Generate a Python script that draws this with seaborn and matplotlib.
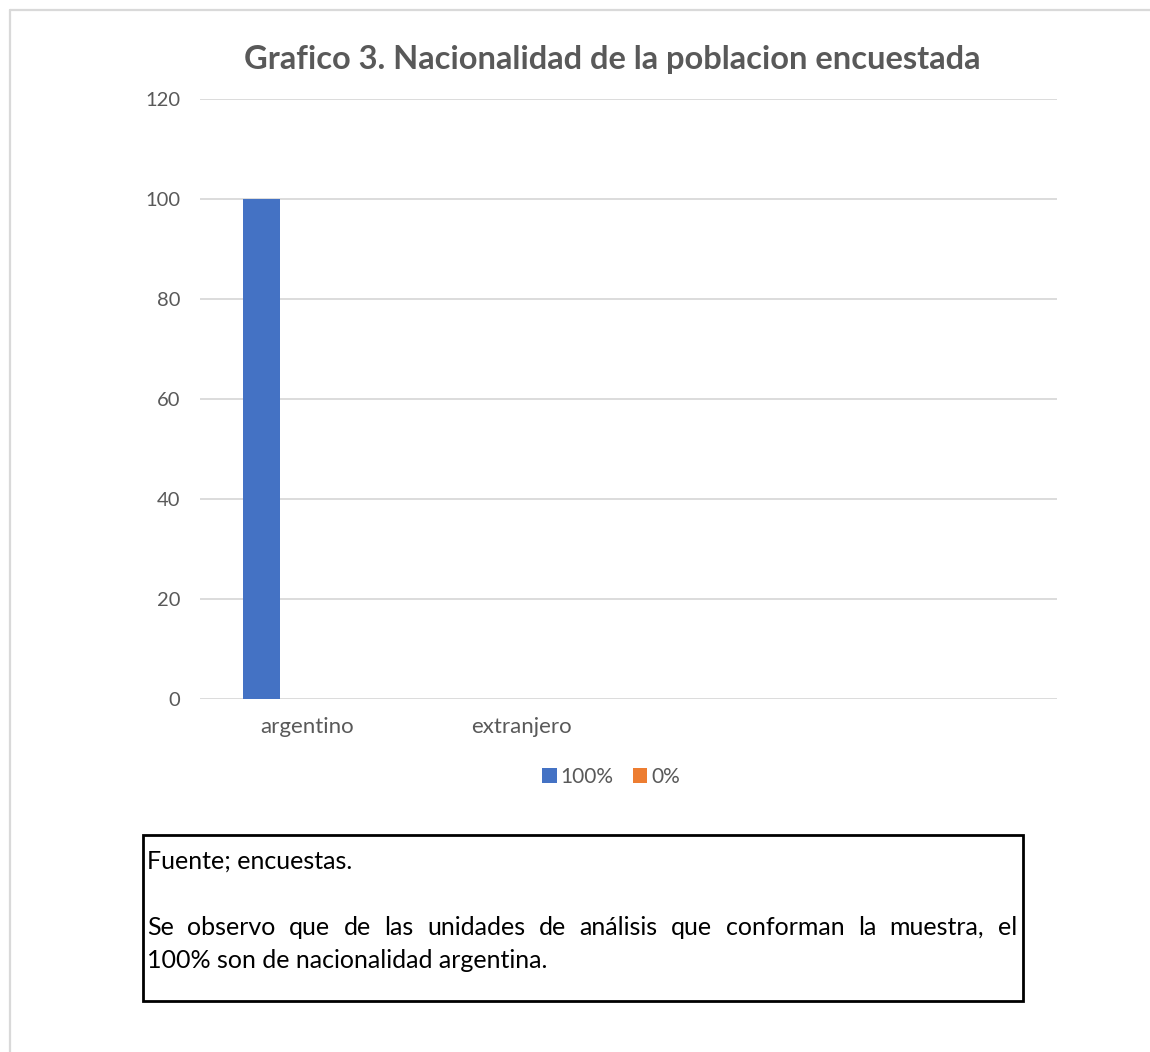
import matplotlib
matplotlib.use("Agg")
import matplotlib.pyplot as plt
from matplotlib.lines import Line2D
from matplotlib.patches import Patch, Rectangle
import pandas as pd
import seaborn as sns

# Datos del gráfico
categorias = ["argentino", "extranjero"]
series = ["100%", "0%"]
valores_100 = [100, 0]
valores_0 = [0, 0]
marcas_y = [0, 20, 40, 60, 80, 100, 120]
colores = ["#4472C4", "#ED7D31"]

titulo = "Grafico 3. Nacionalidad de la poblacion encuestada"
fuente = "Fuente; encuestas."
obs_linea1 = "Se observo que de las unidades de análisis que conforman la muestra, el"
obs_linea2 = "100% son de nacionalidad argentina."

sns.set_theme(style="white")
plt.rcParams["font.family"] = ["Lato", "DejaVu Sans"]

W, H = 1150, 1052
gris = "#595959"

df = pd.DataFrame({
    "categoria": categorias * 2,
    "serie": [series[0]] * len(categorias) + [series[1]] * len(categorias),
    "valor": valores_100 + valores_0,
})

fig = plt.figure(figsize=(W / 100, H / 100), dpi=100)
fig.patch.set_facecolor("white")

# marco exterior del gráfico
fig.add_artist(Line2D([10 / W, 10 / W], [0, 1 - 10 / H], color="#d9d9d9", lw=1.6,
                      transform=fig.transFigure))
fig.add_artist(Line2D([10 / W, 1], [1 - 10 / H, 1 - 10 / H], color="#d9d9d9", lw=1.6,
                      transform=fig.transFigure))

ax = fig.add_axes([200 / W, 1 - 699 / H, 857 / W, 600 / H])
sns.barplot(data=df, x="categoria", y="valor", hue="serie", order=categorias,
            hue_order=series, palette=colores, width=0.85, gap=0.59,
            saturation=1, linewidth=0, legend=False, ax=ax)

ax.set_xlim(-0.5, 3.5)
ax.set_ylim(0, 120)
ax.set_yticks(marcas_y)
ax.set_yticklabels([str(v) for v in marcas_y])
ax.set_xlabel("")
ax.set_ylabel("")
for s in ax.spines.values():
    s.set_visible(False)
ax.yaxis.grid(True, color="#d9d9d9", lw=1.3)
ax.set_axisbelow(True)
ax.tick_params(axis="y", length=0, pad=14, labelsize=14.5, labelcolor=gris)
ax.tick_params(axis="x", length=0, pad=13, labelsize=16, labelcolor=gris)

fig.text(612 / W, 1 - 59 / H, titulo, ha="center", va="center",
         fontsize=23.5, fontweight="bold", color=gris)

handles = [Patch(facecolor=c, edgecolor="none") for c in colores]
fig.legend(handles, series, loc="center", bbox_to_anchor=(611 / W, 1 - 777 / H),
           ncol=2, frameon=False, fontsize=15, labelcolor=gris,
           handlelength=0.7, handleheight=0.7, handletextpad=0.2,
           columnspacing=0.9)

# recuadro con la fuente y la observación
fig.add_artist(Rectangle((143 / W, 1 - 1001 / H), 880 / W, 166 / H, fill=False,
                         edgecolor="black", lw=2, transform=fig.transFigure))

tam = 18
fig.text(147 / W, 1 - 869 / H, fuente, ha="left", va="baseline", fontsize=tam, color="black")

# primera línea justificada entre los márgenes del recuadro
renderer = fig.canvas.get_renderer()
palabras = obs_linea1.split(" ")
objs = [fig.text(0, 1 - 935 / H, p, ha="left", va="baseline", fontsize=tam, color="black")
        for p in palabras]
anchos = [t.get_window_extent(renderer=renderer).width for t in objs]
x0, x1 = 147, 1017
esp = (x1 - x0 - sum(anchos)) / (len(palabras) - 1)
x = x0
for t, a in zip(objs, anchos):
    t.set_x(x / W)
    x += a + esp

fig.text(147 / W, 1 - 968 / H, obs_linea2, ha="left", va="baseline", fontsize=tam, color="black")

fig.savefig("out.png", dpi=100, facecolor="white")
